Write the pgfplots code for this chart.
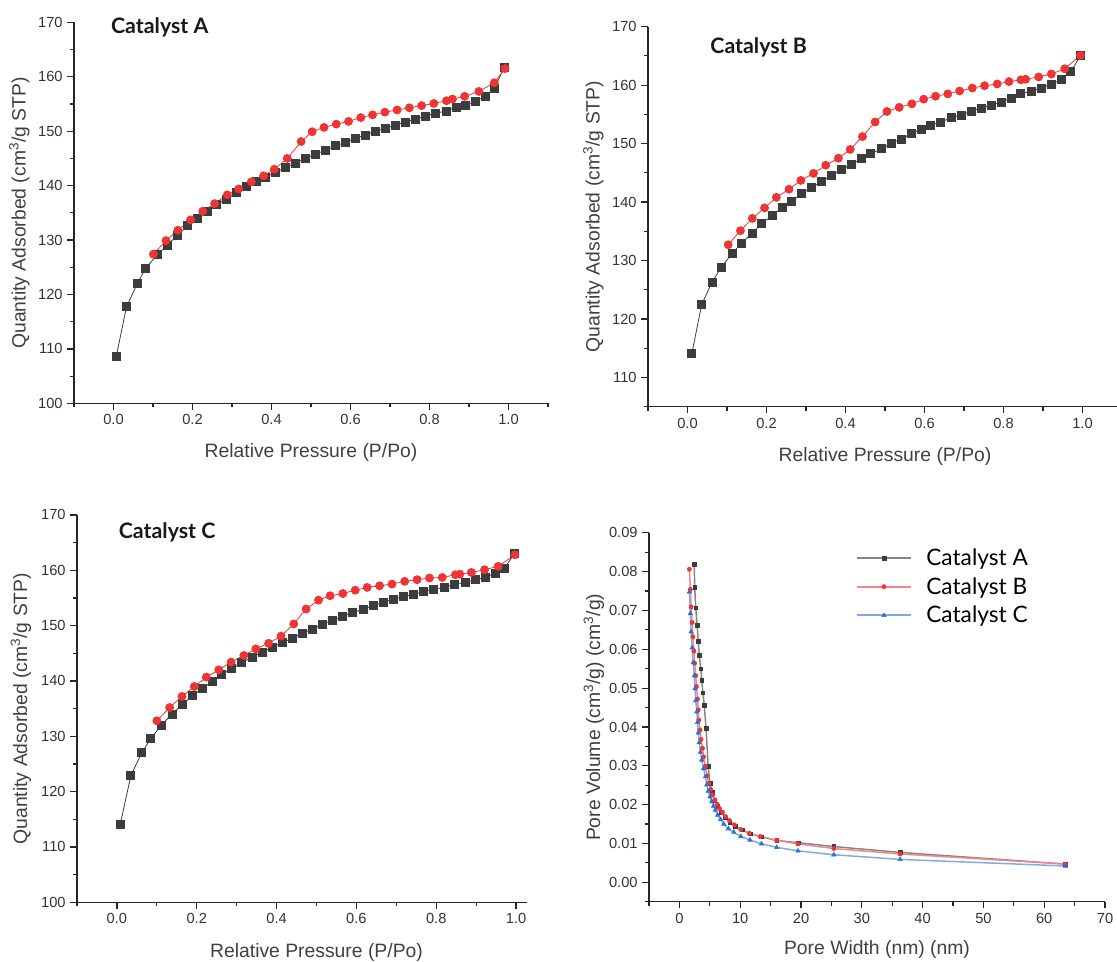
\documentclass[border=0pt]{standalone}
\usepackage{fontspec}
\setmainfont{Liberation Sans}
\newfontfamily\ttlfont{Lato}
\usepackage{pgfplots}
\pgfplotsset{compat=1.18}

\definecolor{sqgray}{HTML}{3C3C3C}
\definecolor{cred}{HTML}{EE3434}
\definecolor{cblue}{HTML}{2E6FD0}
\definecolor{lgray}{HTML}{858585}
\definecolor{lred}{HTML}{F38686}
\definecolor{lblue}{HTML}{80A9E6}

\tikzset{ttl/.style={anchor=west, font=\ttlfont\bfseries\fontsize{16}{19}\selectfont, text=black!90}}

\pgfplotsset{
  orig/.style={
    scale only axis, anchor=south west, clip=false,
    axis x line*=bottom, axis y line*=left,
    axis line style={line width=1pt, black!85},
    tick align=outside,
    major tick length=5pt, minor tick length=3pt,
    every tick/.style={line width=0.9pt, black!85},
    tick label style={font=\fontsize{11}{13}\selectfont, text=black!80},
    label style={font=\fontsize{14.5}{17}\selectfont, text=black!75},
    /pgf/number format/assume math mode=true,
    xlabel style={at={(axis description cs:0.5,-0.13)}, anchor=center},
  },
  iso/.style={orig,
    xmin=-0.1, xmax=1.1,
    xtick={0,0.2,0.4,0.6,0.8,1.0},
    minor xtick={-0.1,0.1,0.3,0.5,0.7,0.9,1.1},
    xticklabel style={/pgf/number format/fixed, /pgf/number format/fixed zerofill, /pgf/number format/precision=1},
    xlabel={Relative Pressure (P/Po)},
    ylabel={Quantity Adsorbed (cm\textsuperscript{3}/g STP)},
  },
  ads/.style={sqgray, line width=0.6pt, mark=square*, mark size=3pt, mark options={fill=sqgray, draw=sqgray}},
  des/.style={cred, line width=0.6pt, mark=*, mark size=3pt, mark options={fill=cred, draw=cred}},
}

\begin{document}
\begin{tikzpicture}
\useasboundingbox (0,0) rectangle (837.75pt,-721.5pt);
\clip (0,0) rectangle (837.75pt,-721.5pt);

% ---------- Catalyst A ----------
\begin{axis}[iso, at={(55.5pt,-302.5pt)}, width=355.5pt, height=285.75pt,
  ymin=100, ymax=170, ytick={100,110,...,170}, minor ytick={105,115,...,165},
  ylabel style={at={(axis description cs:-0.115,0.5)}, anchor=center}]
\addplot[ads] coordinates {
(0.007,108.6)(0.033,117.8)(0.061,122.1)(0.081,124.8)(0.111,127.3)(0.136,129.1)
(0.163,130.9)(0.187,132.6)(0.213,134.0)(0.237,135.3)(0.261,136.6)(0.287,137.5)
(0.312,138.7)(0.337,139.8)(0.362,140.7)(0.385,141.6)(0.410,142.4)(0.434,143.3)
(0.460,144.1)(0.486,145.0)(0.511,145.8)(0.537,146.5)(0.561,147.3)(0.586,147.9)
(0.613,148.7)(0.638,149.3)(0.663,150.0)(0.688,150.5)(0.713,151.1)(0.738,151.7)
(0.765,152.2)(0.790,152.8)(0.814,153.3)(0.842,153.7)(0.867,154.4)(0.891,154.8)
(0.917,155.5)(0.941,156.4)(0.964,157.8)(0.989,161.7)};
\addplot[des] coordinates {
(0.991,161.5)(0.964,158.9)(0.925,157.3)(0.889,156.4)(0.858,155.9)(0.843,155.6)
(0.811,155.1)(0.780,154.7)(0.749,154.3)(0.718,153.9)(0.687,153.5)(0.656,153.0)
(0.626,152.5)(0.595,151.8)(0.564,151.3)(0.533,150.7)(0.503,149.9)(0.475,148.1)
(0.440,145.0)(0.407,143.0)(0.380,141.8)(0.349,140.7)(0.317,139.4)(0.288,138.3)
(0.256,136.7)(0.226,135.3)(0.195,133.7)(0.163,131.8)(0.133,129.9)(0.101,127.4)};
\node[ttl] at (axis cs:-0.018,169.1) {Catalyst A};
\end{axis}

% ---------- Catalyst B ----------
\begin{axis}[iso, at={(486pt,-305pt)}, width=355.5pt, height=285pt,
  ymin=105, ymax=170, ytick={110,120,...,170}, minor ytick={105,115,...,165},
  ylabel style={at={(axis description cs:-0.115,0.5)}, anchor=center}]
\addplot[ads] coordinates {
(0.011,114.1)(0.036,122.5)(0.062,126.3)(0.086,128.9)(0.113,131.2)(0.137,133.0)
(0.164,134.7)(0.188,136.3)(0.214,137.7)(0.239,139.0)(0.263,140.1)(0.288,141.4)
(0.314,142.5)(0.340,143.5)(0.364,144.6)(0.389,145.5)(0.414,146.4)(0.439,147.4)
(0.464,148.3)(0.491,149.1)(0.515,150.0)(0.541,150.8)(0.567,151.7)(0.592,152.5)
(0.616,153.1)(0.641,153.7)(0.668,154.4)(0.693,154.9)(0.718,155.5)(0.743,156.1)
(0.769,156.6)(0.795,157.1)(0.819,157.8)(0.844,158.5)(0.871,159.0)(0.895,159.5)
(0.921,160.2)(0.946,160.9)(0.970,162.3)(0.995,165.0)};
\addplot[des] coordinates {
(0.995,165.1)(0.955,162.8)(0.921,161.9)(0.889,161.4)(0.856,161.0)(0.844,160.9)
(0.814,160.6)(0.784,160.2)(0.752,159.9)(0.721,159.5)(0.689,159.0)(0.659,158.5)
(0.628,158.1)(0.598,157.6)(0.568,156.8)(0.536,156.2)(0.505,155.5)(0.475,153.7)
(0.443,151.2)(0.412,149.0)(0.382,147.5)(0.350,146.3)(0.319,144.9)(0.287,143.7)
(0.257,142.2)(0.225,140.8)(0.195,139.0)(0.164,137.2)(0.134,135.1)(0.103,132.7)};
\node[ttl] at (axis cs:0.046,166.4) {Catalyst B};
\end{axis}

% ---------- Catalyst C (cut at the right as in the source) ----------
\begin{scope}
\clip (0,-367.5pt) rectangle (395.25pt,-721.5pt);
\begin{axis}[iso, at={(57.75pt,-676.7pt)}, width=359.25pt, height=290.5pt,
  ymin=100, ymax=170, ytick={100,110,...,170}, minor ytick={105,115,...,165},
  ylabel style={at={(axis description cs:-0.117,0.5)}, anchor=center}]
\addplot[ads] coordinates {
(0.008,114.0)(0.035,122.9)(0.062,127.0)(0.085,129.6)(0.111,132.0)(0.138,134.0)
(0.163,135.7)(0.188,137.3)(0.214,138.6)(0.239,139.9)(0.263,141.2)(0.288,142.2)
(0.313,143.3)(0.339,144.3)(0.364,145.2)(0.389,146.1)(0.414,146.9)(0.439,147.7)
(0.465,148.6)(0.490,149.4)(0.515,150.2)(0.541,151.0)(0.566,151.7)(0.591,152.3)
(0.617,153.0)(0.642,153.6)(0.667,154.2)(0.693,154.8)(0.718,155.2)(0.743,155.7)
(0.769,156.1)(0.794,156.6)(0.821,156.9)(0.845,157.5)(0.872,157.8)(0.897,158.3)
(0.922,158.7)(0.948,159.5)(0.971,160.4)(0.996,163.0)};
\addplot[des] coordinates {
(0.997,162.8)(0.955,160.7)(0.921,160.1)(0.888,159.6)(0.859,159.3)(0.848,159.2)
(0.815,158.7)(0.783,158.6)(0.752,158.3)(0.721,158.0)(0.689,157.5)(0.658,157.2)
(0.627,156.9)(0.597,156.4)(0.566,155.8)(0.534,155.4)(0.505,154.6)(0.474,153.0)
(0.443,150.3)(0.411,148.1)(0.380,146.8)(0.348,145.8)(0.318,144.6)(0.286,143.4)
(0.255,142.0)(0.224,140.7)(0.194,139.0)(0.163,137.2)(0.132,135.2)(0.100,132.8)};
\node[ttl] at (axis cs:-0.007,166.9) {Catalyst C};
\end{axis}
\end{scope}

% ---------- Pore size distribution ----------
\begin{axis}[orig, at={(486.75pt,-676.3pt)}, width=342pt, height=276.75pt,
  xmin=-5, xmax=70, xtick={0,10,...,70}, minor xtick={-5,5,...,65},
  ymin=-0.005, ymax=0.09, scaled y ticks=false,
  ytick={0,0.01,0.02,0.03,0.04,0.05,0.06,0.07,0.08,0.09},
  minor ytick={-0.005,0.005,0.015,0.025,0.035,0.045,0.055,0.065,0.075,0.085},
  yticklabel style={/pgf/number format/fixed, /pgf/number format/fixed zerofill, /pgf/number format/precision=2},
  xlabel={Pore Width (nm) (nm)},
  ylabel={Pore Volume (cm\textsuperscript{3}/g) (cm\textsuperscript{3}/g)},
  ylabel style={at={(axis description cs:-0.121,0.5)}, anchor=center},
  legend style={draw=none, fill=none, at={(axis description cs:0.445,0.972)}, anchor=north west,
    font=\ttlfont\fontsize{17}{20}\selectfont, row sep=3.5pt,
    /tikz/every odd column/.append style={column sep=9pt}},
  legend cell align=left,
  legend image code/.code={\draw[mark repeat=2,mark phase=2,#1,line width=1.6pt] plot coordinates {(0pt,0pt) (20pt,0pt) (40pt,0pt)};},
]
\addplot[lgray, line width=1.1pt, mark=square*, mark size=1.4pt, mark options={fill=sqgray, draw=sqgray, line width=0.4pt}] coordinates {
(2.45,0.0818)(2.51,0.0760)(2.69,0.0707)(2.92,0.0661)(3.10,0.0621)(3.27,0.0584)
(3.51,0.0550)(3.68,0.0520)(3.86,0.0488)(4.09,0.0456)(4.38,0.0396)(4.73,0.0299)
(5.03,0.0255)(5.40,0.0232)(5.80,0.0212)(6.30,0.0196)(6.90,0.0180)(7.60,0.0166)
(8.30,0.0155)(9.20,0.0145)(10.3,0.0135)(11.7,0.0125)(13.5,0.0117)(16.0,0.0108)
(19.6,0.0102)(25.4,0.0092)(36.3,0.0077)(63.5,0.0047)};
\addlegendentry{Catalyst A}
\addplot[lred, line width=1.1pt, mark=*, mark size=1.6pt, mark options={fill=cred, draw=cred, line width=0.4pt}] coordinates {
(1.64,0.0806)(1.80,0.0754)(1.93,0.0709)(2.10,0.0669)(2.22,0.0632)(2.40,0.0595)
(2.50,0.0564)(2.69,0.0532)(2.80,0.0504)(2.98,0.0472)(3.10,0.0444)(3.20,0.0418)
(3.39,0.0392)(3.57,0.0368)(3.80,0.0345)(3.97,0.0323)(4.27,0.0299)(4.56,0.0274)
(4.85,0.0255)(5.14,0.0239)(5.44,0.0225)(5.84,0.0212)(6.20,0.0201)(6.60,0.0190)
(7.07,0.0180)(7.60,0.0169)(8.24,0.0159)(9.06,0.0148)(10.1,0.0136)(11.5,0.0126)
(13.3,0.0118)(16.0,0.0108)(19.5,0.0099)(25.4,0.0087)(36.3,0.0073)(63.5,0.0047)};
\addlegendentry{Catalyst B}
\addplot[lblue, line width=1.1pt, mark=triangle*, mark size=1.9pt, mark options={fill=cblue, draw=cblue, line width=0.4pt}] coordinates {
(1.64,0.0748)(1.80,0.0692)(1.93,0.0645)(2.10,0.0604)(2.28,0.0566)(2.45,0.0532)
(2.57,0.0499)(2.69,0.0468)(2.86,0.0439)(2.98,0.0412)(3.10,0.0385)(3.27,0.0360)
(3.45,0.0335)(3.68,0.0315)(3.97,0.0293)(4.27,0.0272)(4.50,0.0251)(4.73,0.0235)
(5.03,0.0220)(5.32,0.0208)(5.60,0.0196)(5.90,0.0186)(6.30,0.0173)(6.78,0.0162)
(7.30,0.0150)(8.06,0.0138)(8.94,0.0129)(10.1,0.0118)(11.6,0.0109)(13.5,0.0099)
(16.0,0.0090)(19.5,0.0081)(25.4,0.0071)(36.3,0.0059)(63.5,0.0042)};
\addlegendentry{Catalyst C}
\end{axis}
\end{tikzpicture}
\end{document}
